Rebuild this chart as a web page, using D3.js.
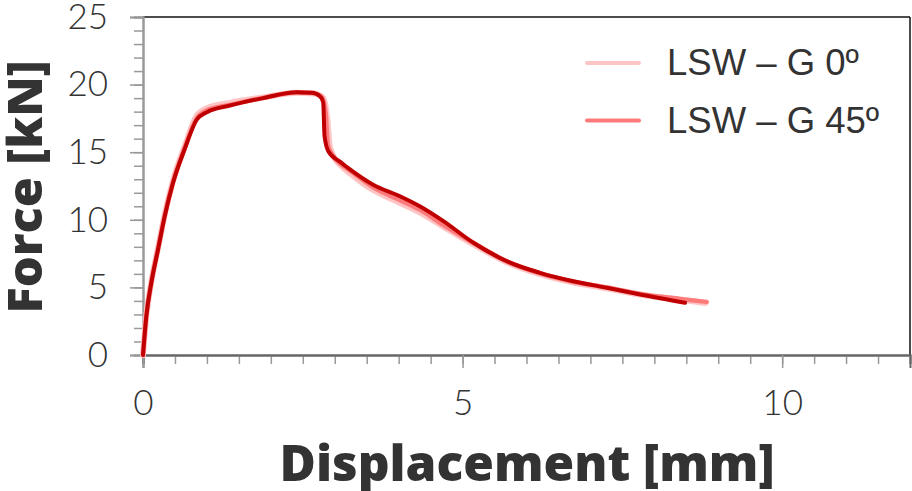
<!DOCTYPE html>
<html>
<head>
<meta charset="utf-8">
<script src="https://cdn.jsdelivr.net/npm/d3@7"></script>
<style>
  body { margin: 0; background: #fff; }
  svg { display: block; }
</style>
</head>
<body>
<div id="chart"></div>
<script>
var width = 912;
var height = 491;
var margin = { top: 17, right: 2, bottom: 136, left: 143 };

// LSW - G 0 (light pink)
var g0X = [0, 0.052, 0.13, 0.235, 0.34, 0.47, 0.65, 0.84, 1.0, 1.36, 1.88, 2.4, 2.68, 2.82, 2.88, 2.92, 2.97, 3.1, 3.25, 3.6, 4.0, 4.35, 4.7, 5.2, 5.7, 6.2, 6.7, 7.3, 7.8, 8.4, 8.8];
var g0Y = [0, 2.9, 5.4, 7.9, 10.4, 12.9, 15.4, 17.7, 18.25, 18.65, 19.05, 19.4, 19.35, 19.0, 17.6, 15.5, 14.8, 14.0, 13.4, 12.2, 11.3, 10.5, 9.5, 8.1, 6.85, 6.0, 5.4, 4.9, 4.45, 4.1, 3.85];

// LSW - G 45 (medium pink)
var g45X = [0, 0.052, 0.13, 0.235, 0.34, 0.47, 0.65, 0.84, 1.0, 1.36, 1.88, 2.4, 2.66, 2.8, 2.86, 2.89, 2.95, 3.1, 3.25, 3.6, 4.0, 4.35, 4.7, 5.2, 5.7, 6.2, 6.7, 7.3, 7.8, 8.4, 8.82];
var g45Y = [0, 2.88, 5.36, 7.85, 10.3, 12.8, 15.3, 17.5, 18.1, 18.5, 19.02, 19.42, 19.38, 19.05, 17.8, 15.6, 14.9, 14.1, 13.6, 12.4, 11.5, 10.7, 9.6, 8.2, 6.9, 6.05, 5.45, 4.95, 4.5, 4.15, 3.93];

// third specimen (dark red)
var refX = [0, 0.052, 0.13, 0.235, 0.34, 0.47, 0.65, 0.84, 1.0, 1.36, 1.88, 2.4, 2.64, 2.77, 2.82, 2.84, 2.9, 3.08, 3.19, 3.6, 4.02, 4.33, 4.7, 5.17, 5.69, 6.21, 6.73, 7.26, 7.78, 8.48];
var refY = [0, 2.87, 5.34, 7.8, 10.27, 12.74, 15.2, 17.4, 17.96, 18.45, 19.0, 19.43, 19.4, 19.14, 18.65, 16.2, 15.07, 14.3, 13.9, 12.6, 11.74, 11.0, 9.9, 8.3, 6.94, 6.08, 5.46, 4.97, 4.47, 3.86];

var xMajor = [0, 5, 10];
var yMajor = [0, 5, 10, 15, 20, 25];
var legendLabels = ["LSW – G 0º", "LSW – G 45º"];

var svg = d3
  .select("#chart")
  .append("svg")
  .attr("width", width)
  .attr("height", height);

var x = d3.scaleLinear().domain([0, 12]).range([margin.left, width - margin.right]);
var y = d3.scaleLinear().domain([0, 25]).range([height - margin.bottom, margin.top]);

var tickFont = "Lato, 'Open Sans', sans-serif";

// frame (top and right)
svg.append("line")
  .attr("x1", x(0)).attr("x2", x(12))
  .attr("y1", y(25)).attr("y2", y(25))
  .attr("stroke", "#111").attr("stroke-width", 1.5);
svg.append("line")
  .attr("x1", x(12)).attr("x2", x(12))
  .attr("y1", y(25)).attr("y2", y(0))
  .attr("stroke", "#111").attr("stroke-width", 1.5);

// minor ticks
var xMinor = d3.range(0, 12.01, 0.5);
var yMinor = d3.range(0, 25.01, 1);

var xAxisMinor = d3.axisBottom(x).tickValues(xMinor).tickSize(9).tickFormat("");
var xAxisMajor = d3.axisBottom(x).tickValues(xMajor).tickSize(13).tickPadding(22).tickFormat(d3.format("d"));
var yAxisMinor = d3.axisLeft(y).tickValues(yMinor).tickSize(9).tickFormat("");
var yAxisMajor = d3.axisLeft(y).tickValues(yMajor).tickSize(13).tickPadding(22).tickFormat(d3.format("d"));

function styleAxis(g, lineColor) {
  g.select(".domain").attr("stroke", lineColor).attr("stroke-width", 2);
  g.selectAll(".tick line").attr("stroke", "#999").attr("stroke-width", 1.5);
  g.selectAll(".tick text")
    .attr("fill", "#333")
    .style("font-family", tickFont)
    .style("font-weight", 300)
    .style("font-size", "35px");
}

svg.append("g").attr("transform", "translate(0," + y(0) + ")").call(xAxisMinor).call(styleAxis, "#666");
svg.append("g").attr("transform", "translate(0," + y(0) + ")").call(xAxisMajor).call(styleAxis, "#666")
  .selectAll(".tick text").attr("dy", "0.71em");
svg.append("g").attr("transform", "translate(" + x(0) + ",0)").call(yAxisMinor).call(styleAxis, "#999");
svg.append("g").attr("transform", "translate(" + x(0) + ",0)").call(yAxisMajor).call(styleAxis, "#999");

// curves
var line = d3
  .line()
  .x((d) => x(d[0]))
  .y((d) => y(d[1]))
  .curve(d3.curveMonotoneX);

var series = [
  { xs: g0X, ys: g0Y, color: "#ffc4c4", w: 6 },
  { xs: g45X, ys: g45Y, color: "#ff7b7b", w: 4.5 },
  { xs: refX, ys: refY, color: "#c00000", w: 4 }
];

series.forEach(function (s) {
  var pts = s.xs.map((v, i) => [v, s.ys[i]]);
  svg.append("path")
    .datum(pts)
    .attr("fill", "none")
    .attr("stroke", s.color)
    .attr("stroke-width", s.w)
    .attr("stroke-linejoin", "round")
    .attr("stroke-linecap", "round")
    .attr("d", line);
});

// legend
var legend = svg.append("g");
legendLabels.forEach(function (label, i) {
  var ly = 63 + i * 57.5;
  legend.append("line")
    .attr("x1", 587).attr("x2", 639)
    .attr("y1", ly).attr("y2", ly)
    .attr("stroke", series[i].color)
    .attr("stroke-width", 4)
    .attr("stroke-linecap", "round");
  legend.append("text")
    .attr("x", 667)
    .attr("y", ly + 12)
    .attr("fill", "#333")
    .style("font-family", "'Liberation Sans', Arial, sans-serif")
    .style("font-size", "36.5px")
    .text(label);
});

// axis titles
svg.append("text")
  .attr("x", 527)
  .attr("y", 481)
  .attr("text-anchor", "middle")
  .attr("fill", "#333")
  .attr("textLength", 495)
  .attr("lengthAdjust", "spacingAndGlyphs")
  .style("font-family", "'Open Sans', sans-serif")
  .style("font-weight", 800)
  .style("font-size", "50px")
  .text("Displacement [mm]");

svg.append("text")
  .attr("transform", "translate(42,187) rotate(-90)")
  .attr("text-anchor", "middle")
  .attr("fill", "#333")
  .attr("textLength", 253)
  .attr("lengthAdjust", "spacingAndGlyphs")
  .style("font-family", "'Open Sans', sans-serif")
  .style("font-weight", 800)
  .style("font-size", "48px")
  .text("Force [kN]");
</script>
</body>
</html>
